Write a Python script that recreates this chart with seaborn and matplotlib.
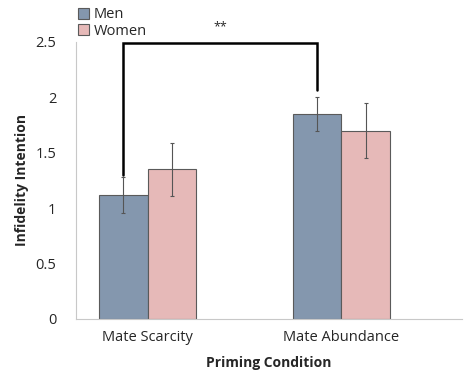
import matplotlib
matplotlib.use("Agg")
import matplotlib.pyplot as plt
import seaborn as sns
import pandas as pd

conditions = ["Mate Scarcity", "Mate Abundance"]
groups = ["Men", "Women"]
men_means = [1.12, 1.85]
women_means = [1.35, 1.70]
men_err = [0.16, 0.15]
women_err = [0.24, 0.25]

df = pd.DataFrame({
    "condition": conditions * 2,
    "group": ["Men"] * 2 + ["Women"] * 2,
    "value": men_means + women_means,
})
errs = men_err + women_err

sns.set_style("white")
plt.rcParams["font.family"] = ["Open Sans", "DejaVu Sans"]

fig = plt.figure(figsize=(4.65, 3.77), dpi=100)
ax = fig.add_axes([0.163, 0.154, 0.83, 0.735])

sns.barplot(data=df, x="condition", y="value", hue="group", order=conditions,
            hue_order=groups, palette=["#8497ae", "#e6b9b8"], saturation=1,
            width=0.5, edgecolor="#5a5a5a", linewidth=0.8, errorbar=None, ax=ax)

# error bars on each bar
bars = ax.patches[:4]
for bar, e in zip(bars, errs):
    xc = bar.get_x() + bar.get_width() / 2
    ax.errorbar(xc, bar.get_height(), yerr=e, color="#555555", lw=0.8,
                capsize=1.5, capthick=0.8)

ax.set_ylim(0, 2.5)
ax.set_xlim(-0.37, 1.62)
ax.set_yticks([0, 0.5, 1, 1.5, 2, 2.5])
ax.set_yticklabels(["0", "0.5", "1", "1.5", "2", "2.5"])
ax.tick_params(axis="y", length=4, color="#c8c8c8", labelsize=10.5, pad=10)
ax.tick_params(axis="x", length=0, labelsize=10.5, pad=8)
for s in ["top", "right"]:
    ax.spines[s].set_visible(False)
ax.spines["left"].set_color("#c8c8c8")
ax.spines["bottom"].set_color("#c8c8c8")

ax.set_xlabel("Priming Condition", fontsize=10, fontweight="bold", labelpad=8)
ax.set_ylabel("Infidelity Intention", fontsize=10, fontweight="bold", labelpad=5)

# significance bracket between the men bars
x1 = bars[0].get_x() + bars[0].get_width() / 2
x2 = bars[1].get_x() + bars[1].get_width() / 2
ax.plot([x1, x1, x2, x2], [1.30, 2.49, 2.49, 2.07], color="black", lw=1.8,
        clip_on=False, solid_joinstyle="miter")
ax.text((x1 + x2) / 2, 2.58, "**", ha="center", va="bottom", fontsize=9)

leg = ax.legend(loc="lower left", bbox_to_anchor=(-0.01, 0.99), frameon=False,
                fontsize=10.5, handlelength=0.8, handleheight=0.8,
                handletextpad=0.3, labelspacing=0.1, borderaxespad=0)

fig.savefig("out.png", dpi=100)
